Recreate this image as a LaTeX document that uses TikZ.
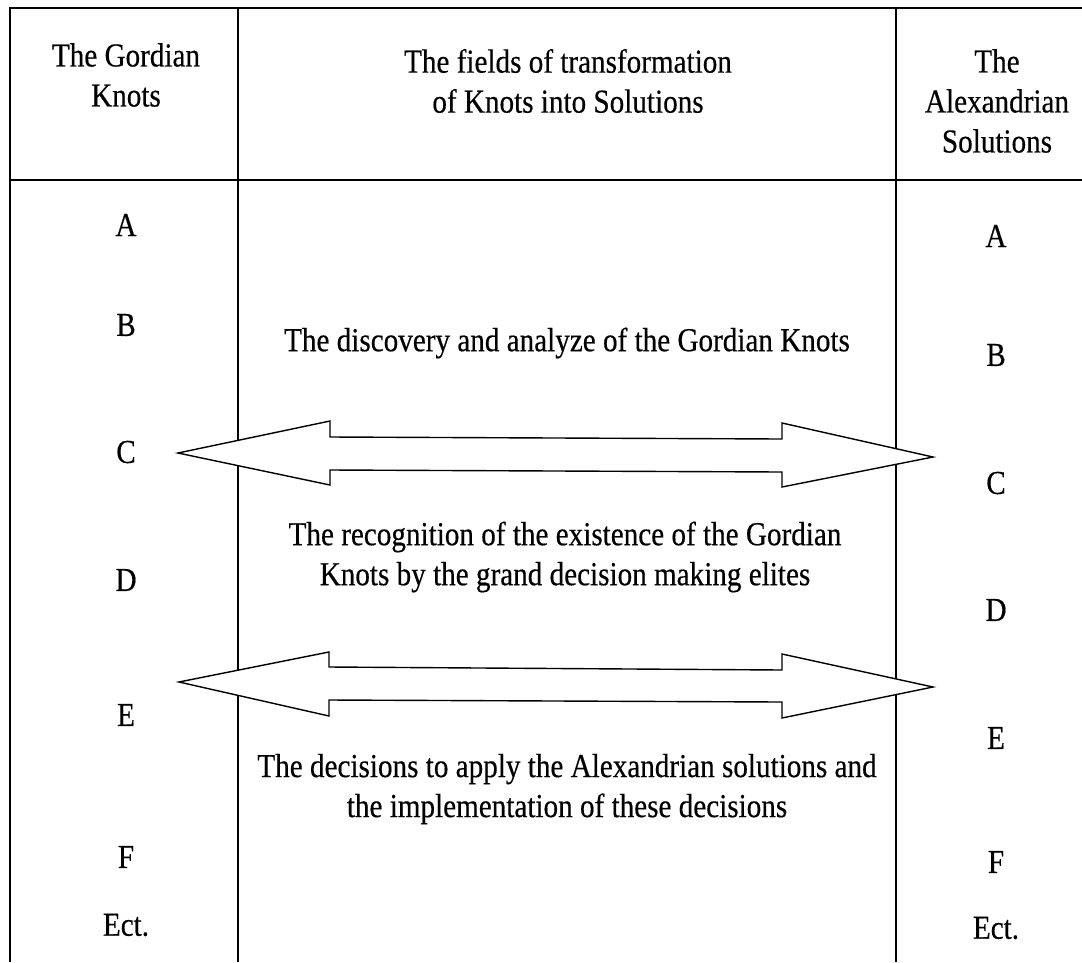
\documentclass[tikz,border=0pt]{standalone}
\usepackage{fontspec}
\setmainfont{Liberation Serif}[FakeStretch=0.87, FakeBold=0.4]
\usetikzlibrary{positioning}

\begin{document}
\begin{tikzpicture}[x=1pt, y=-1pt, line width=1.4pt,
    txt/.style={font=\fontsize{33.5}{40}\selectfont, align=center, inner sep=0pt},
    twoway/.style={draw, fill=white, line join=miter}]
  \useasboundingbox (0,0) rectangle (1082,962);
  % table rules
  \draw (1082,8) -- (10,8) -- (10,962);
  \draw (10,180) -- (1082,180);
  \draw (238,8) -- (238,962);
  \draw (896,8) -- (896,962);
  % column heads
  \node[txt] (hknots) at (126,75) {The Gordian\\Knots};
  \node[txt] (hfields) at (568,81) {The fields of transformation\\of Knots into Solutions};
  \node[txt] (hsols) at (997,101) {The\\Alexandrian\\Solutions};
  % row letters
  \foreach \l/\yl/\yr in {A/225/236, B/325/355, C/452/483, D/580/610, E/715/738, F/857/862, Ect./925/928} {
    \node[txt] (k\l) at (126,\yl) {\l};
    \node[txt] (s\l) at (996,\yr) {\l};
  }
  % fields
  \node[txt] (discover) at (567,343) {The discovery and analyze of the Gordian Knots};
  \node[txt] (recognise) at (565,557) {The recognition of the existence of the Gordian\\Knots by the grand decision making elites};
  \node[txt] (apply) at (567,789) {The decisions to apply the Alexandrian solutions and\\the implementation of these decisions};
  % double arrows
  \draw[twoway] (178,453) -- (330,421) -- (330,437) -- (782,439) -- (782,423) -- (933,457)
    -- (782,487) -- (782,472) -- (330,470) -- (330,485) -- cycle;
  \draw[twoway] (179,682) -- (329,652) -- (329,667) -- (782,670) -- (782,654) -- (933,687)
    -- (782,718) -- (782,702) -- (329,700) -- (329,716) -- cycle;
\end{tikzpicture}
\end{document}
